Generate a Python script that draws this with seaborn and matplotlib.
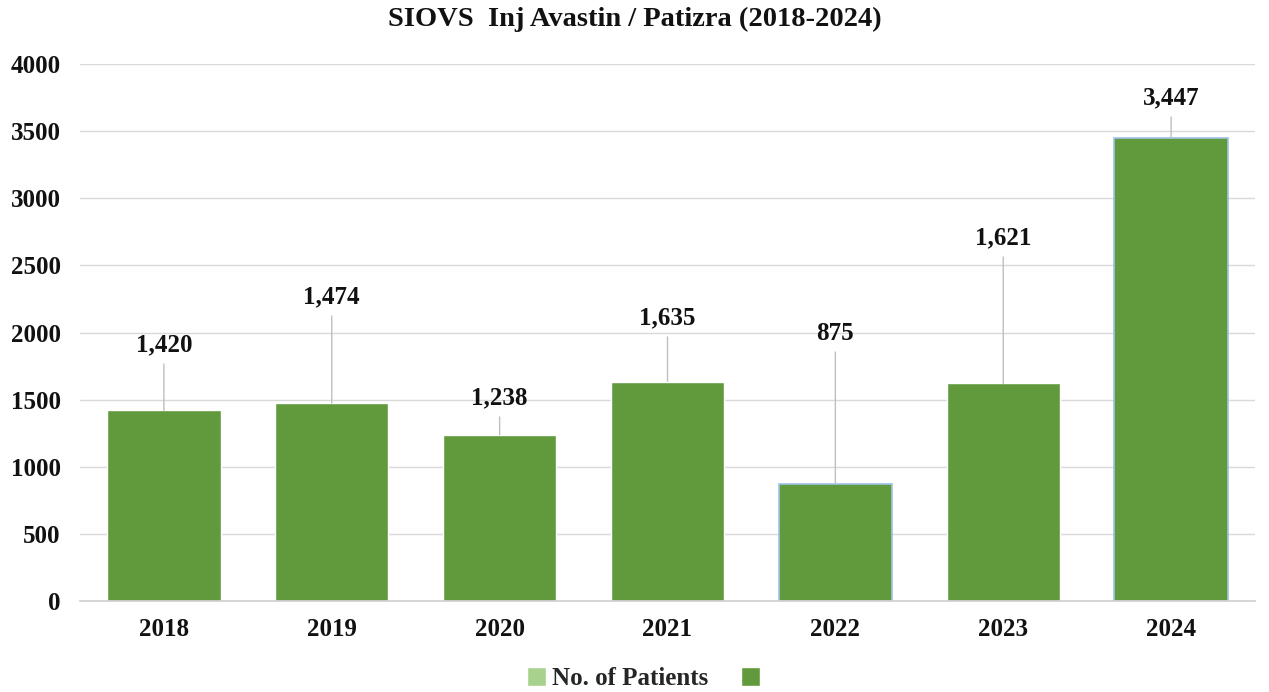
import matplotlib
matplotlib.use("Agg")
import matplotlib.pyplot as plt
import seaborn as sns
from matplotlib.patches import Patch

# Chart data
years = ["2018", "2019", "2020", "2021", "2022", "2023", "2024"]
patients = [1420, 1474, 1238, 1635, 875, 1621, 3447]
# where each data label sits (value axis units)
label_pos = [1907, 2264, 1512, 2108, 1996, 2704, 3747]

sns.set_theme(style="white")
plt.rcParams['font.family'] = ['Liberation Serif', 'DejaVu Serif']
plt.rcParams['font.weight'] = 'bold'

bar_green = "#619a3c"
light_green = "#a9d18e"

fig = plt.figure(figsize=(12.69, 6.92), dpi=100)
ax = fig.add_axes([0.063, 0.1315, 0.926, 0.776])

sns.barplot(x=years, y=patients, color=bar_green, saturation=1, width=0.675,
            ax=ax, zorder=2)

# bars 2022 and 2024 have a thin light blue outline in the original
for i in (4, 6):
    ax.patches[i].set_edgecolor("#9dc3e6")
    ax.patches[i].set_linewidth(1.2)

# data labels with leader lines
for i, (v, ly) in enumerate(zip(patients, label_pos)):
    ax.annotate(f"{v:,}", xy=(i, v), xytext=(i, ly), textcoords="data",
                ha="center", va="center", fontsize=18, fontweight="bold",
                color="#111111",
                arrowprops=dict(arrowstyle="-", color="#bfbfbf", lw=1,
                                shrinkA=3, shrinkB=0))

ax.set_ylim(0, 4000)
ax.set_xlim(-0.5, 6.5)
ax.set_yticks(range(0, 4001, 500))
ax.yaxis.grid(True, color="#d9d9d9", lw=1, zorder=0)
ax.set_axisbelow(True)
for s in ["top", "right", "left"]:
    ax.spines[s].set_visible(False)
ax.spines["bottom"].set_color("#d0d0d0")
ax.tick_params(axis="both", length=0, labelsize=18, colors="#111111")
ax.tick_params(axis="y", pad=14)
ax.tick_params(axis="x", pad=12)
for lab in ax.get_xticklabels() + ax.get_yticklabels():
    lab.set_fontweight("bold")
ax.set_xlabel("")
ax.set_ylabel("")

fig.suptitle("SIOVS  Inj Avastin / Patizra (2018-2024)", y=0.99,
             fontsize=20.5, fontweight="bold", color="#111111")

handles = [Patch(facecolor=light_green, label="No. of Patients"),
           Patch(facecolor=bar_green, label=" ")]
fig.legend(handles=handles, loc="center", bbox_to_anchor=(0.512, 0.019), ncol=2,
           frameon=False, handlelength=0.75, handleheight=0.75,
           handletextpad=0.25, columnspacing=1.3, prop={'weight': 'bold', 'size': 18})

fig.savefig("out.png", dpi=100)
